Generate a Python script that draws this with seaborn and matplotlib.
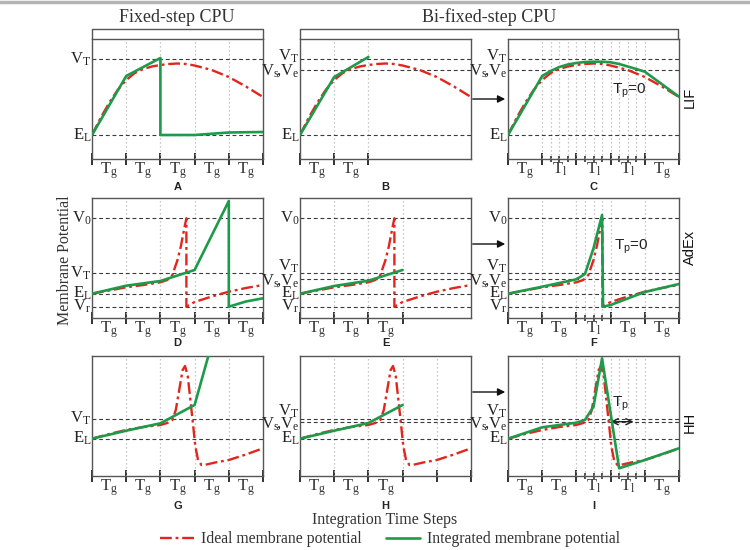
import matplotlib
matplotlib.use("Agg")
import matplotlib.pyplot as plt
import seaborn as sns
import pandas as pd
from matplotlib.lines import Line2D
from matplotlib.patches import FancyArrowPatch

# ------------------------------------------------------------------ data
row_models = ["LIF", "AdEx", "HH"]
col_titles = ["Fixed-step CPU", "Bi-fixed-step CPU"]
panel_letters = ["A", "B", "C", "D", "E", "F", "G", "H", "I"]
legend_labels = ["Ideal membrane potential", "Integrated membrane potential"]
x_title = "Integration Time Steps"
y_title = "Membrane Potential"

# potential levels (arbitrary units, panel range 0-120)
lif_levels = {"V_T": 100, "V_s,V_e": 89.5, "E_L": 24}
adex_levels = {"V_0": 99.7, "V_T": 44.7, "V_s,V_e": 39.3, "E_L": 24.3, "V_r": 11.3}
hh_levels = {"V_T": 57.3, "V_s,V_e": 54, "E_L": 37.3}

# ideal membrane potential (one per model)
lif_ideal_x = [0, 0.25, 0.5, 0.75, 1, 1.25, 1.5, 1.75, 2, 2.25, 2.5, 2.75, 3, 3.5, 4, 4.5, 5]
lif_ideal_y = [24, 41, 56, 69, 79, 86, 90, 92.5, 94, 95, 95.5, 95, 93.5, 89, 82, 72.5, 62]
adex_ideal_x = [0, 0.5, 1, 1.5, 2, 2.2, 2.35, 2.5, 2.6, 2.7, 2.76, 2.76, 3, 3.5, 4, 4.5, 5]
adex_ideal_y = [24.3, 27.5, 30.7, 33, 35.7, 38, 43, 58, 72, 90, 99.7, 11.3, 16, 21.5, 26.3, 30, 33]
hh_ideal_x = [0, 0.5, 1, 1.5, 2, 2.2, 2.35, 2.45, 2.55, 2.65, 2.72, 2.8, 2.88, 2.95, 3.02,
              3.1, 3.2, 3.35, 3.6, 4, 4.5, 5]
hh_ideal_y = [37.3, 42, 46, 49, 51, 53, 56, 66, 86, 106, 110, 100, 75, 53, 30,
              16, 11, 11.5, 13.5, 16, 21.5, 27.7]

# integrated membrane potential (one per panel)
A_x = [0, 1, 2, 2, 3, 4, 5]
A_y = [24, 83, 101, 24, 24, 26.5, 27]
B_x = [0, 1, 2]
B_y = [24, 82, 102]
C_x = [0, 1, 1.25, 1.5, 1.75, 2, 2.25, 2.5, 2.75, 3, 3.25, 3.5, 3.75, 4, 5]
C_y = [24, 83, 88, 92, 94.5, 96, 97, 97.3, 97.3, 96.7, 95, 92.5, 90, 87.3, 62.3]
D_x = [0, 1, 2, 3, 4, 4, 4.5, 5]
D_y = [24.3, 32.3, 37, 48, 117, 11.3, 16.5, 19.7]
E_x = [0, 1, 2, 3]
E_y = [24.3, 32, 37.3, 48]
F_x = [0, 1, 2, 2.25, 2.5, 2.75, 2.78, 3, 4, 5]
F_y = [24.3, 31.3, 38.7, 44, 69.7, 103, 11.3, 13, 26, 34]
G_x = [0, 1, 2, 3, 3.5]
G_y = [37.3, 45.3, 52.7, 71, 132]
H_x = [0, 1, 2, 3]
H_y = [37.3, 45.3, 53, 71]
I_x = [0, 1, 2, 2.25, 2.5, 2.75, 3, 3.25, 4, 5]
I_y = [37.3, 48.7, 53.3, 56, 69.3, 117.7, 62.7, 7.7, 16, 27.7]

# time-step structure per panel
A_steps, A_sub, A_lab = [0, 1, 2, 3, 4, 5], [], ["g", "g", "g", "g", "g"]
B_steps, B_sub, B_lab = [0, 1, 2], [], ["g", "g"]
C_steps, C_sub, C_lab = [0, 1, 2, 3, 4, 5], [1.25, 1.5, 1.75, 2.25, 2.5, 2.75, 3.25, 3.5, 3.75], ["g", "l", "l", "l", "g"]
D_steps, D_sub, D_lab = [0, 1, 2, 3, 4, 5], [], ["g", "g", "g", "g", "g"]
E_steps, E_sub, E_lab = [0, 1, 2, 3], [], ["g", "g", "g"]
F_steps, F_sub, F_lab = [0, 1, 2, 3, 4, 5], [2.25, 2.5, 2.75], ["g", "g", "l", "g", "g"]
G_steps, G_sub, G_lab = [0, 1, 2, 3, 4, 5], [], ["g", "g", "g", "g", "g"]
H_steps, H_sub, H_lab = [0, 1, 2, 3, 4, 5], [], ["g", "g", "g"]
I_steps, I_sub, I_lab = [0, 1, 2, 3, 4, 5], [2.25, 2.5, 2.75, 3.25, 3.5, 3.75], ["g", "g", "l", "l", "g"]

A_grid = [1, 2, 3, 4]
B_grid = [1, 2]
C_grid = [1, 1.25, 1.5, 1.75, 2, 2.25, 2.5, 2.75, 3, 3.25, 3.5, 3.75, 4]
D_grid = [1, 2, 3, 4]
E_grid = [1, 2, 3]
F_grid = [1, 2, 2.25, 2.5, 2.75, 3, 4]
G_grid = [1, 2, 3, 4]
H_grid = [1, 2, 3, 4]
I_grid = [1, 2, 2.25, 2.5, 2.75, 3, 3.25, 3.5, 3.75, 4]

# which levels are labelled in each column
col_level_keys = {
    0: [["V_T", "E_L"], ["V_0", "V_T", "E_L", "V_r"], ["V_T", "E_L"]],
    1: [["V_T", "V_s,V_e", "E_L"], ["V_0", "V_T", "V_s,V_e", "E_L", "V_r"], ["V_T", "V_s,V_e", "E_L"]],
}
level_tex = {"V_T": r"$\mathrm{V_T}$", "E_L": r"$\mathrm{E_L}$", "V_0": r"$\mathrm{V_0}$",
             "V_r": r"$\mathrm{V_r}$", "V_s,V_e": r"$\mathrm{V_s\!,\!V_e}$"}

# ------------------------------------------------------------------ style
sns.set_theme(style="white")
plt.rcParams["font.family"] = ["Liberation Serif", "DejaVu Serif"]
plt.rcParams["mathtext.fontset"] = "custom"
plt.rcParams["mathtext.rm"] = "Liberation Serif"
plt.rcParams["mathtext.it"] = "Liberation Serif:italic"
plt.rcParams["mathtext.sf"] = "Liberation Sans"

RED = "#e0261d"
GREEN = "#1d9a4a"
SPINE = "#555555"
W, H = 750, 550

fig = plt.figure(figsize=(7.5, 5.5), dpi=100)


def fx(px):
    return px / W


def fy(py):
    return 1 - py / H


def fig_line(xs, ys, **kw):
    fig.add_artist(Line2D([fx(v) for v in xs], [fy(v) for v in ys],
                          transform=fig.transFigure, **kw))


col_x0 = [92, 300, 508]
row_bottom = [159, 318, 476]
PW, PH = 171, 120

ideal = [(lif_ideal_x, lif_ideal_y), (adex_ideal_x, adex_ideal_y), (hh_ideal_x, hh_ideal_y)]
levels = [lif_levels, adex_levels, hh_levels]
green = [[(A_x, A_y), (B_x, B_y), (C_x, C_y)],
         [(D_x, D_y), (E_x, E_y), (F_x, F_y)],
         [(G_x, G_y), (H_x, H_y), (I_x, I_y)]]
steps = [[(A_steps, A_sub, A_lab), (B_steps, B_sub, B_lab), (C_steps, C_sub, C_lab)],
         [(D_steps, D_sub, D_lab), (E_steps, E_sub, E_lab), (F_steps, F_sub, F_lab)],
         [(G_steps, G_sub, G_lab), (H_steps, H_sub, H_lab), (I_steps, I_sub, I_lab)]]
grids = [[A_grid, B_grid, C_grid], [D_grid, E_grid, F_grid], [G_grid, H_grid, I_grid]]
vt_nudge = [2.5, 7, 7]

axes = {}
for r in range(3):
    for c in range(3):
        ax = fig.add_axes([fx(col_x0[c]), fy(row_bottom[r]), PW / W, PH / H])
        axes[(r, c)] = ax
        ax.set_xlim(0, 5)
        ax.set_ylim(0, 120)
        for s in ax.spines.values():
            s.set_color(SPINE)
            s.set_linewidth(1.0)
        for g in grids[r][c]:
            ax.axvline(g, color="#b5b5b5", ls=(0, (1, 2.2)), lw=0.9, zorder=1)
        keys = col_level_keys[min(c, 1)][r]
        ytf = ax.get_yaxis_transform()
        for k in keys:
            lv = levels[r][k]
            ax.axhline(lv, color="#3a3a3a", ls=(0, (3.5, 2.5)), lw=0.8, zorder=1)
            dy = 0
            if k == "V_T" and "V_s,V_e" in keys:
                dy = vt_nudge[r]
            if k == "V_s,V_e":
                dy = -1.5
            ax.text(-0.004, lv + dy, level_tex[k], transform=ytf, ha="right", va="center",
                    fontsize=12, color="#222222")
        ax.set_yticks([])
        st, sub, lab = steps[r][c]
        ax.set_xticks(st)
        ax.set_xticks(sub, minor=True)
        ax.tick_params(axis="x", which="major", direction="inout", length=9, width=1.3,
                       color="#222222", labelbottom=False, bottom=True)
        ax.tick_params(axis="x", which="minor", direction="inout", length=5, width=1.1,
                       color="#222222", labelbottom=False, bottom=True)
        for i, l in enumerate(lab):
            ax.text(i + 0.5, -0.12, r"$\mathrm{T_{%s}}$" % l, transform=ax.get_xaxis_transform(),
                    ha="center", va="baseline", fontsize=12, color="#333333")
        ix, iy = ideal[r]
        sns.lineplot(x=ix, y=iy, ax=ax, sort=False, estimator=None, color=RED, lw=1.7,
                     linestyle=(0, (5, 1.6, 1.2, 1.6)), legend=False, zorder=3)
        gx, gy = green[r][c]
        sns.lineplot(x=gx, y=gy, ax=ax, sort=False, estimator=None, color=GREEN, lw=1.9,
                     legend=False, zorder=4)
        ax.set_xlabel("")
        ax.set_ylabel("")
        fig.text(fx(col_x0[c] + PW / 2), fy([187, 343, 506][r]), panel_letters[3 * r + c],
                 ha="center", va="center", fontsize=8, fontweight="bold",
                 family="Liberation Sans", color="#222222")

# annotations
axes[(0, 2)].text(3.05, 68, r"T$_{\mathsf{p}}$=0", fontsize=11, family="Liberation Sans",
                  ha="left", va="center", color="#222222")
axes[(1, 2)].text(3.1, 71, r"T$_{\mathsf{p}}$=0", fontsize=11, family="Liberation Sans",
                  ha="left", va="center", color="#222222")
axes[(2, 2)].annotate("", xy=(3.0, 54.3), xytext=(3.67, 54.3),
                      arrowprops=dict(arrowstyle="<->", lw=1.0, color="#222222",
                                      shrinkA=0, shrinkB=0, mutation_scale=11))
axes[(2, 2)].text(3.3, 63, r"T$_{\mathsf{p}}$", fontsize=11, family="Liberation Sans",
                  ha="center", va="bottom", color="#222222")

for r, (m, yc) in enumerate(zip(row_models, [97, 247, 422])):
    fig.text(fx(690), fy(yc), m, rotation=90, ha="center", va="center", fontsize=10.5,
             family="Liberation Sans", color="#111111")

for yc in [99, 244, 392]:
    fig.add_artist(FancyArrowPatch((fx(470), fy(yc)), (fx(508), fy(yc)),
                                   transform=fig.transFigure, arrowstyle="-|>",
                                   mutation_scale=11, color="#111111", lw=1.0))

fig_line([92, 92, 263, 263], [39, 29, 29, 39], color=SPINE, lw=1.0)
fig_line([300, 300, 678, 678], [39, 29, 29, 39], color=SPINE, lw=1.0)
fig.text(fx(177), fy(17), col_titles[0], ha="center", va="center", fontsize=13, color="#333333")
fig.text(fx(489), fy(17), col_titles[1], ha="center", va="center", fontsize=13, color="#333333")

fig_line([0, 750], [2, 2], color="#b4b4b4", lw=2.5)

fig.text(fx(65), fy(260), y_title, rotation=90, ha="center", va="center", fontsize=11.5,
         color="#333333")
fig.text(fx(385), fy(520), x_title, ha="center", va="center", fontsize=11.5, color="#333333")

handles = [Line2D([], [], color=RED, lw=1.7, ls=(0, (5, 1.6, 1.2, 1.6))),
           Line2D([], [], color=GREEN, lw=1.9)]
fig.legend(handles, legend_labels, loc="center", bbox_to_anchor=(fx(390), fy(539)), ncol=2,
           frameon=False, fontsize=11.3, handlelength=2.2, handletextpad=0.45, columnspacing=1.5,
           labelcolor="#333333")

fig.savefig("out.png", dpi=100)
